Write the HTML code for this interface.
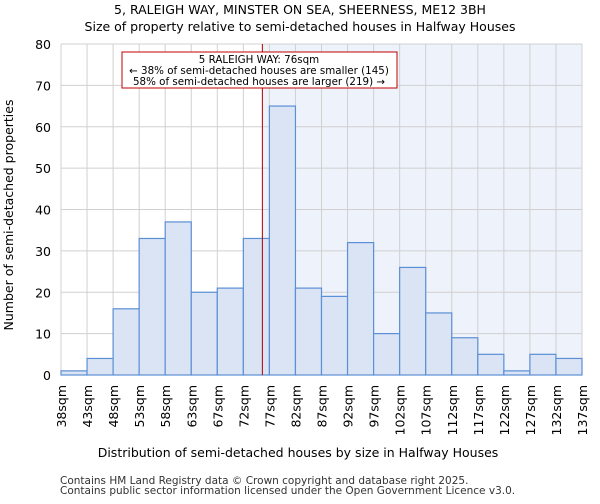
<!DOCTYPE html>
<html><head><meta charset="utf-8"><style>
body{margin:0;background:#fff;font-family:"DejaVu Sans","Liberation Sans",sans-serif}
</style></head><body>
<svg width="600" height="500" xmlns="http://www.w3.org/2000/svg" font-family="DejaVu Sans, Liberation Sans, sans-serif">
<text x="300" y="14" text-anchor="middle" font-size="12.5">5, RALEIGH WAY, MINSTER ON SEA, SHEERNESS, ME12 3BH</text>
<text x="300" y="31" text-anchor="middle" font-size="12.5">Size of property relative to semi-detached houses in Halfway Houses</text>
<g id="plot"></g>
<text x="298" y="457" text-anchor="middle" font-size="12.5">Distribution of semi-detached houses by size in Halfway Houses</text>
<text transform="translate(13,215) rotate(-90)" text-anchor="middle" font-size="12.5">Number of semi-detached properties</text>
<text x="60" y="484" font-size="10.5" fill="#333">Contains HM Land Registry data © Crown copyright and database right 2025.</text>
<text x="60" y="494" font-size="10.5" fill="#333">Contains public sector information licensed under the Open Government Licence v3.0.</text>
</svg>
<script>
const categories=["38sqm","43sqm","48sqm","53sqm","58sqm","63sqm","67sqm","72sqm","77sqm","82sqm","87sqm","92sqm","97sqm","102sqm","107sqm","112sqm","117sqm","122sqm","127sqm","132sqm","137sqm"];
const counts=[1,4,16,33,37,20,21,33,65,21,19,32,10,26,15,9,5,1,5,4];
const yTicks=[0,10,20,30,40,50,60,70,80];
const markerBinPos=7.73;
const NS="http://www.w3.org/2000/svg";
const L=61,R=582,T=44,B=375,n=counts.length,bw=(R-L)/n;
const x=i=>L+i*bw, y=v=>B-(v/80)*(B-T);
const g=document.getElementById('plot');
function mk(t,a){const e=document.createElementNS(NS,t);for(const k in a)e.setAttribute(k,a[k]);g.appendChild(e);return e;}
let e=mk('rect',{x:x(markerBinPos),y:T,width:R-x(markerBinPos),height:B-T,fill:'#eef2fb'});


for(let i=0;i<=n;i++){e=mk('line',{x1:x(i),x2:x(i),y1:T,y2:B,stroke:'#d0d0d0','stroke-width':1});

}
yTicks.forEach(v=>{e=mk('line',{x1:L,x2:R,y1:y(v),y2:y(v),stroke:'#d0d0d0','stroke-width':1});


e=mk('text',{x:L-10,y:y(v)+5,'text-anchor':'end','font-size':12.5});e.textContent=v;

});
counts.forEach((c,i)=>{e=mk('rect',{x:x(i),y:y(c),width:bw,height:B-y(c),fill:'#dae4f4',stroke:'#5b8fd6','stroke-width':1.2});

});
categories.forEach((c,i)=>{e=mk('text',{transform:`translate(${x(i)+5},385) rotate(-90)`,'text-anchor':'end','font-size':12.5});e.textContent=c;

});
e=mk('line',{x1:x(markerBinPos),x2:x(markerBinPos),y1:T,y2:B,stroke:'#b00000','stroke-width':1});


e=mk('rect',{x:122,y:52,width:275,height:36,fill:'#fff',stroke:'#c00000','stroke-width':1});


["5 RALEIGH WAY: 76sqm","← 38% of semi-detached houses are smaller (145)","58% of semi-detached houses are larger (219) →"].forEach((t,i)=>{
e=mk('text',{x:259,y:63+i*11,'text-anchor':'middle','font-size':10.3});e.textContent=t;

});
</script>
</body></html>
